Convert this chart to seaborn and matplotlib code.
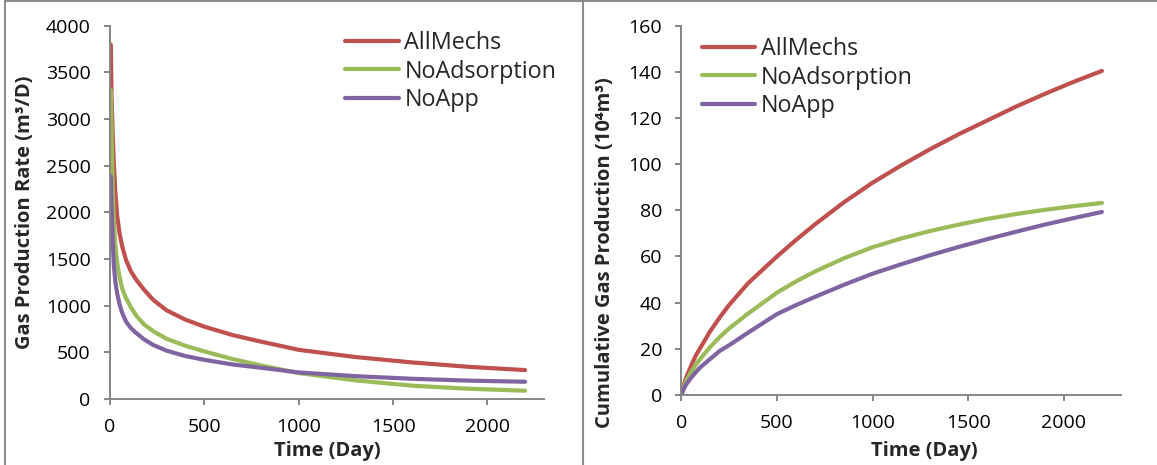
import matplotlib
matplotlib.use('Agg')
import matplotlib.pyplot as plt
from matplotlib.lines import Line2D
import numpy as np
import pandas as pd
import seaborn as sns

sns.set_style('white')
plt.rcParams['font.family'] = ['Open Sans', 'DejaVu Sans']

series = ['AllMechs', 'NoAdsorption', 'NoApp']
colors = ['#C0504D', '#9BBB59', '#8064A2']

# gas production rate (m3/D) vs time (day)
rate_time = [4, 8, 14, 20, 28, 38, 50, 65, 85, 110, 140, 180, 230, 300, 400,
             500, 650, 800, 1000, 1300, 1600, 1900, 2200]
rate_allmechs = [3800, 3250, 2850, 2530, 2220, 1960, 1780, 1630, 1490, 1370, 1275,
                 1172, 1060, 950, 850, 775, 685, 615, 527, 450, 392, 345, 310]
rate_noadsorption = [3310, 2850, 2300, 1920, 1650, 1460, 1310, 1180, 1080, 985, 890,
                     800, 725, 645, 570, 510, 428, 360, 278, 200, 143, 110, 89]
rate_noapp = [2390, 2080, 1700, 1440, 1260, 1130, 1020, 920, 830, 760, 705,
              640, 578, 518, 460, 420, 370, 335, 285, 245, 217, 197, 185]

# cumulative gas production (10^4 m3) vs time (day)
cum_time = [0, 5, 10, 25, 50, 75, 100, 150, 200, 250, 350, 500, 600, 700, 850,
            1000, 1150, 1300, 1450, 1600, 1750, 1900, 2050, 2200]
cum_allmechs = [0, 1.9, 3.5, 7.5, 12.5, 17, 20.5, 27.5, 33.5, 39, 48.5, 60, 67.2,
                74, 83.5, 92, 99.5, 106.5, 113, 119, 125, 130.5, 135.7, 140.5]
cum_noadsorption = [0, 1.5, 2.9, 6, 9.8, 13, 15.7, 20.7, 25, 28.8, 35.3, 44.3,
                    49.2, 53.5, 59.2, 64, 67.8, 71, 73.8, 76.3, 78.4, 80.2, 81.8,
                    83.2]
cum_noapp = [0, 1.1, 2.1, 4.5, 7.3, 9.8, 12, 15.5, 19, 21.5, 27, 35, 38.9, 42.5,
             47.7, 52.5, 56.6, 60.5, 64.1, 67.5, 70.7, 73.8, 76.6, 79.3]

rate_df = pd.concat([
    pd.DataFrame({'Time': rate_time, 'Value': v, 'Case': s})
    for s, v in zip(series, [rate_allmechs, rate_noadsorption, rate_noapp])])
cum_df = pd.concat([
    pd.DataFrame({'Time': cum_time, 'Value': v, 'Case': s})
    for s, v in zip(series, [cum_allmechs, cum_noadsorption, cum_noapp])])

palette = dict(zip(series, colors))
spine_col = '#868686'

fig = plt.figure(figsize=(11.57, 4.65), dpi=100)
ax1 = fig.add_axes([0.0951, 0.1419, 0.3751, 0.8028])
ax2 = fig.add_axes([0.589, 0.1512, 0.3799, 0.7929])

for ax, df in [(ax1, rate_df), (ax2, cum_df)]:
    sns.lineplot(data=df, x='Time', y='Value', hue='Case', hue_order=series,
                 palette=palette, linewidth=3.0, ax=ax, sort=False,
                 solid_capstyle='round')
    ax.set_xlim(0, 2300)
    ax.set_xticks([0, 500, 1000, 1500, 2000])
    for side in ['top', 'right']:
        ax.spines[side].set_visible(False)
    for side in ['left', 'bottom']:
        ax.spines[side].set_color(spine_col)
        ax.spines[side].set_linewidth(1.4)
    ax.tick_params(axis='both', direction='out', length=4, width=1.4,
                   color=spine_col, labelsize=14, pad=10, labelcolor='black')
    ax.tick_params(axis='x', bottom=True)
    ax.tick_params(axis='y', left=True)
    ax.set_xlabel('Time (Day)', fontsize=14.5, fontweight='bold')

ax1.set_ylim(0, 4000)
ax1.set_yticks(np.arange(0, 4001, 500))
ax1.set_ylabel('Gas Production Rate (m³/D)', fontsize=14.5, fontweight='bold')
ax1.yaxis.set_label_coords(-0.173, 0.5)
ax1.xaxis.set_label_coords(0.5, -0.1125)

ax2.set_ylim(0, 160)
ax2.set_yticks(np.arange(0, 161, 20))
ax2.set_ylabel('Cumulative Gas Production (10⁴m³)', fontsize=14.5, fontweight='bold')
ax2.yaxis.set_label_coords(-0.151, 0.386)
ax2.xaxis.set_label_coords(0.552, -0.1256)

for ax, anchor in [(ax1, (345 / 1157, 1 - 31 / 465)), (ax2, (701.5 / 1157, 1 - 37 / 465))]:
    sns.move_legend(ax, 'upper left', bbox_to_anchor=anchor,
                    bbox_transform=fig.transFigure, frameon=False, title=None,
                    fontsize=16.8, handlelength=2.3, handletextpad=0.25,
                    labelspacing=0.2, borderpad=0, borderaxespad=0)

# outer frame of the two chart boxes
frame_kw = dict(color='#8c8c8c', linewidth=1.5, transform=fig.transFigure)
fig.add_artist(Line2D([5 / 1157, 1], [1 - 1.5 / 465, 1 - 1.5 / 465], **frame_kw))
fig.add_artist(Line2D([5 / 1157, 5 / 1157], [0, 1 - 1.5 / 465], **frame_kw))
fig.add_artist(Line2D([583 / 1157, 583 / 1157], [0, 1 - 1.5 / 465], **frame_kw))

fig.savefig('out.png', dpi=100)
